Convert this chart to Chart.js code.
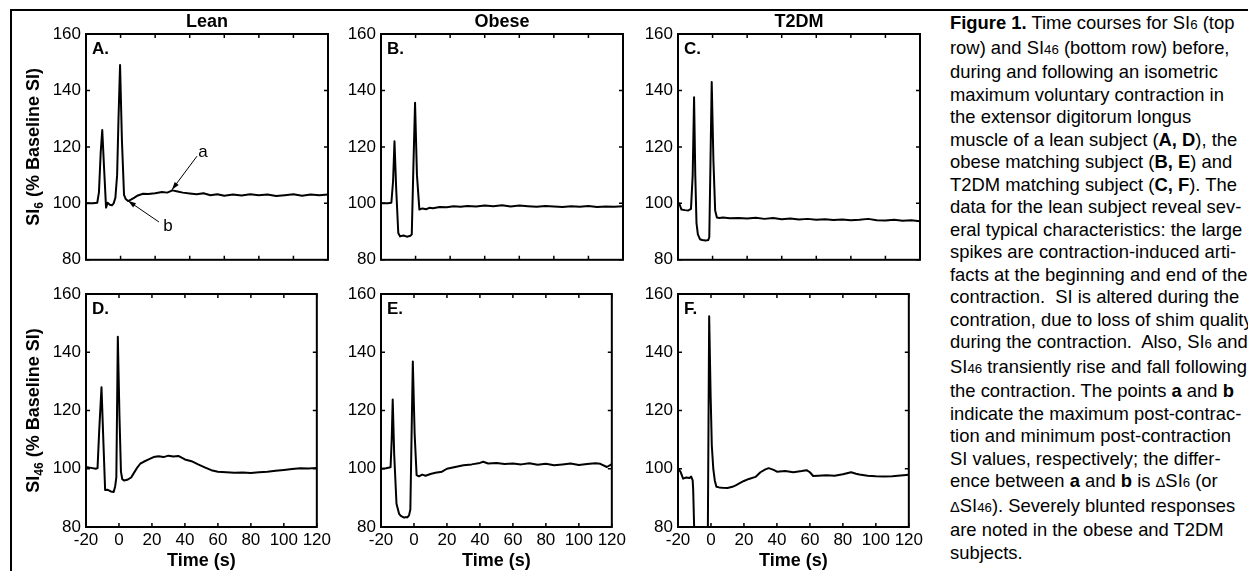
<!DOCTYPE html>
<html>
<head>
<meta charset="utf-8">
<script src="https://cdn.jsdelivr.net/npm/chart.js@4.4.1/dist/chart.umd.min.js"></script>
<style>
  body { margin: 0; width: 1248px; height: 571px; overflow: hidden; background: #fff; position: relative;
         font-family: "Liberation Sans", Arial, sans-serif; }
  .frame { position: absolute; left: 10px; top: 9px; width: 1400px; height: 700px;
           border-left: 2px solid #000; border-top: 2px solid #000; }
  .panel { position: absolute; }
  .caption { position: absolute; left: 950px; top: 12px; font-size: 18.4px; line-height: 22.5px;
             white-space: nowrap; color: #000; }
  .s { font-size: 72%; }
  .d { font-size: 80%; }
</style>
</head>
<body>
<div class="frame"></div>
<div id="panels"></div>
<div class="caption">
<b>Figure 1.</b> Time courses for SI<span class="s">6</span> (top<br>
row) and SI<span class="s">46</span> (bottom row) before,<br>
during and following an isometric<br>
maximum voluntary contraction in<br>
the extensor digitorum longus<br>
muscle of a lean subject (<b>A, D</b>), the<br>
obese matching subject (<b>B, E</b>) and<br>
T2DM matching subject (<b>C, F</b>). The<br>
data for the lean subject reveal sev-<br>
eral typical characteristics: the large<br>
spikes are contraction-induced arti-<br>
facts at the beginning and end of the<br>
contraction.&nbsp; SI is altered during the<br>
contration, due to loss of shim quality<br>
during the contraction.&nbsp; Also, SI<span class="s">6</span> and<br>
SI<span class="s">46</span> transiently rise and fall following<br>
the contraction. The points <b>a</b> and <b>b</b><br>
indicate the maximum post-contrac-<br>
tion and minimum post-contraction<br>
SI values, respectively; the differ-<br>
ence between <b>a</b> and <b>b</b> is <span class="d">&Delta;</span>SI<span class="s">6</span> (or<br>
<span class="d">&Delta;</span>SI<span class="s">46</span>). Severely blunted responses<br>
are noted in the obese and T2DM<br>
subjects.
</div>
<script>
// tick labels
var xTicks = [-20, 0, 20, 40, 60, 80, 100, 120];
var yTicks = [80, 100, 120, 140, 160];

var groupTitles = ["Lean", "Obese", "T2DM"];
var panelLetters = ["A.", "B.", "C.", "D.", "E.", "F."];
var rowSubscripts = ["6", "46"];

// SI6, lean (A)
var leanSI6Time = [-20, -16, -13.5, -12.5, -11.5, -10.6, -9.5, -8.4, -7.5, -6.2, -5, -4, -3, -2, -1.2, -0.3, 0.8, 2, 3, 4.3,
  6, 8, 10, 13, 16, 20, 24, 27, 30, 33, 36, 40, 44, 48, 52, 56, 60, 65, 70, 75, 80, 85, 90, 95, 100, 105, 110, 115, 120];
var leanSI6Values = [100, 100, 100.2, 104, 118, 126, 112, 98.5, 100.2, 99.5, 99.3, 100, 102, 110, 130, 149, 122, 103, 101.5, 100.8,
  101.3, 102, 102.8, 103.4, 103.3, 103.6, 104, 103.8, 104.6, 104.2, 103.8, 103.5, 103.2, 103.6, 102.9, 103.2, 102.7, 103.1, 102.8,
  103.2, 102.9, 103.1, 102.6, 102.9, 103.2, 102.7, 103.1, 102.9, 103.1];

// SI6, obese (B)
var obeseSI6Time = [-20, -16, -14, -13, -12.2, -11.2, -10, -9, -7, -5, -3, -2.2, -1.3, -0.3, 0.8, 2.2, 4, 6, 8, 10, 14, 18, 22,
  26, 30, 35, 40, 45, 50, 55, 60, 65, 70, 75, 80, 85, 90, 95, 100, 105, 110, 115, 120];
var obeseSI6Values = [100, 100, 100.2, 108, 122, 105, 89.5, 88.3, 88.6, 88.2, 88.5, 89, 112, 135.6, 110, 97.8, 98.2, 97.9, 98.4,
  98.3, 98.7, 98.6, 99, 98.8, 99.1, 98.9, 99.2, 99, 99.3, 98.9, 99.2, 99, 98.8, 99.1, 98.9, 98.7, 99, 98.8, 99.1, 98.7, 98.9, 98.8, 99];

// SI6, T2DM (C)
var t2dmSI6Time = [-20, -19, -18, -16, -14, -12.5, -11.5, -10.7, -10, -9.3, -8.5, -7.3, -6, -4, -2.5, -1.9, -1.2, -0.5, 0.5, 1.5,
  2.5, 4, 6, 10, 15, 20, 25, 30, 35, 40, 45, 50, 55, 60, 65, 70, 75, 80, 85, 90, 95, 100, 105, 110, 115, 120];
var t2dmSI6Values = [100.5, 99.5, 97.8, 97.6, 97.5, 98, 110, 137.6, 110, 93, 89, 87.3, 87, 86.8, 87, 88, 115, 143, 115, 97.5,
  95, 94.8, 95, 94.7, 94.8, 94.6, 94.9, 94.5, 94.8, 94.4, 94.6, 94.3, 94.5, 94.2, 94.4, 94.1, 94.3, 94, 94.2, 94.5, 94, 93.9,
  94.2, 93.8, 94, 93.7];

// SI46, lean (D)
var leanSI46Time = [-20, -17, -14, -13, -12, -10.6, -9.5, -8.4, -7, -5, -3.2, -2.3, -1.6, -0.7, 0.3, 1.2, 2, 3, 5, 7.4, 9, 11.2,
  13, 15, 18, 21, 24, 27, 30, 33, 36, 40, 44, 48, 52, 56, 60, 65, 70, 75, 80, 85, 90, 95, 100, 105, 110, 115, 120];
var leanSI46Values = [100.6, 100.3, 100, 100.2, 113, 128, 110, 92.7, 92.8, 92.2, 92, 94, 97, 145.3, 118, 99, 96.4, 96, 96.2, 97,
  98.5, 100.5, 101.8, 102.4, 103.2, 104, 104.3, 104, 104.5, 104.2, 104.4, 103.2, 102.6, 101.5, 100.5, 99.5, 99, 98.8, 98.6, 98.7,
  98.5, 98.8, 99, 99.3, 99.6, 99.9, 100.2, 100.1, 100.3];

// SI46, obese (E)
var obeseSI46Time = [-20, -17, -14.2, -13.5, -12.9, -12, -10.6, -9, -8, -6, -5, -4, -3, -2.2, -1.5, -0.7, 0.4, 1.6, 3, 5, 7, 10,
  13, 17, 20, 25, 30, 35, 40, 42, 45, 50, 55, 60, 65, 70, 75, 80, 85, 90, 95, 100, 105, 110, 113, 117, 120];
var obeseSI46Values = [100, 100.2, 100.5, 110, 123.8, 105, 88, 84.5, 83.8, 83.2, 83.4, 83.3, 84, 86, 110, 136.8, 112, 97.8, 97.4,
  98, 97.6, 98.2, 98.6, 99, 100, 100.6, 101.2, 101.5, 102, 102.4, 101.8, 102, 101.6, 101.8, 101.5, 101.9, 101.4, 101.7, 101.2,
  101.5, 101.8, 101.3, 101.6, 101.9, 101.7, 100.6, 101.6];

// SI46, T2DM (F) - dips below the axis during the contraction
var t2dmSI46Time = [-20, -18.5, -16.9, -15, -13, -12, -11.1, -10.8, -9.3, -6, -2.1, -1.1, -0.2, 0.5, 1.4, 2.3, 3.3, 5, 7, 10, 13,
  15, 18, 20, 23, 27, 30, 33, 35, 38, 40, 45, 50, 55, 58, 60, 62, 65, 70, 75, 80, 85, 88, 90, 95, 100, 105, 110, 115, 120];
var t2dmSI46Values = [100, 99, 96.6, 97, 96.8, 97.3, 96, 93, 60, 60, 60, 152.4, 125, 108, 100, 96, 93.8, 93.6, 93.5, 93.4, 93.8,
  94.3, 95.2, 95.8, 96.5, 97.2, 98.8, 99.8, 100.2, 99.6, 99, 99.2, 98.8, 99.2, 99.5, 98.8, 97.5, 97.6, 97.8, 97.6, 98.1, 98.8,
  98.3, 98, 97.6, 97.4, 97.3, 97.4, 97.7, 97.9];

// a / b markers on panel A: label, label position, arrow start, arrow tip (data units)
var markLabels = ["a", "b"];
var markTextAt = [[47.7, 118.1], [27.4, 92.0]];
var markArrowFrom = [[44.2, 116.7], [22.2, 93.4]];
var markArrowTo = [[29.7, 104.8], [4.3, 100.9]];

var series = [
  [leanSI6Time, leanSI6Values], [obeseSI6Time, obeseSI6Values], [t2dmSI6Time, t2dmSI6Values],
  [leanSI46Time, leanSI46Values], [obeseSI46Time, obeseSI46Values], [t2dmSI46Time, t2dmSI46Values]
];

Chart.defaults.font.family = '"Liberation Sans", Arial, sans-serif';
Chart.defaults.color = "#000";

var colLeft = [86, 381, 678];
var rowTop = [34, 294];
var plotW = 242, plotH = 233;
var padL = 80, padT = 34, padR = 6;
var boldFont = 'bold 18px "Liberation Sans", Arial, sans-serif';

var framePlugin = {
  id: "frame",
  afterDraw: function(chart) {
    var o = chart.options.plugins.frame;
    var ctx = chart.ctx, a = chart.chartArea;
    var xs = chart.scales.x, ys = chart.scales.y;
    ctx.save();
    ctx.strokeStyle = "#000";
    ctx.lineWidth = 2;
    ctx.strokeRect(a.left, a.top, a.right - a.left, a.bottom - a.top);
    // inward ticks on all four sides
    ctx.lineWidth = 1.5;
    ctx.beginPath();
    xs.ticks.forEach(function(t) {
      var px = xs.getPixelForValue(t.value);
      ctx.moveTo(px, a.bottom); ctx.lineTo(px, a.bottom - 4);
      ctx.moveTo(px, a.top); ctx.lineTo(px, a.top + 4);
    });
    ys.ticks.forEach(function(t) {
      var py = ys.getPixelForValue(t.value);
      ctx.moveTo(a.left, py); ctx.lineTo(a.left + 4, py);
      ctx.moveTo(a.right, py); ctx.lineTo(a.right - 4, py);
    });
    ctx.stroke();

    ctx.fillStyle = "#000";
    ctx.textBaseline = "middle";
    ctx.font = boldFont;
    if (o.title) {
      ctx.textAlign = "center";
      ctx.fillText(o.title, (a.left + a.right) / 2, a.top - 12);
    }
    ctx.textAlign = "left";
    ctx.font = 'bold 17px "Liberation Sans", Arial, sans-serif';
    ctx.fillText(o.letter, a.left + 6, a.top + 15);
    ctx.font = boldFont;
    if (o.xTitle) {
      ctx.textAlign = "center";
      ctx.fillText("Time (s)", (a.left + a.right) / 2, a.bottom + 34);
    }
    if (o.sub) {
      var small = 'bold 12px "Liberation Sans", Arial, sans-serif';
      ctx.font = boldFont;
      var w1 = ctx.measureText("SI").width;
      var w3 = ctx.measureText(" (% Baseline SI)").width;
      ctx.font = small;
      var w2 = ctx.measureText(o.sub).width;
      var total = w1 + w2 + w3;
      ctx.translate(a.left - 47, (a.top + a.bottom) / 2);
      ctx.rotate(-Math.PI / 2);
      ctx.textAlign = "left";
      ctx.textBaseline = "alphabetic";
      ctx.font = boldFont;
      ctx.fillText("SI", -total / 2, 0);
      ctx.font = small;
      ctx.fillText(o.sub, -total / 2 + w1, 4);
      ctx.font = boldFont;
      ctx.fillText(" (% Baseline SI)", -total / 2 + w1 + w2, 0);
      ctx.setTransform(1, 0, 0, 1, 0, 0);
    }
    if (o.marks) {
      ctx.font = '17px "Liberation Sans", Arial, sans-serif';
      ctx.textAlign = "center";
      ctx.textBaseline = "middle";
      ctx.lineWidth = 1;
      markLabels.forEach(function(lbl, i) {
        var tx = xs.getPixelForValue(markTextAt[i][0]), ty = ys.getPixelForValue(markTextAt[i][1]);
        ctx.fillText(lbl, tx, ty);
        var fx = xs.getPixelForValue(markArrowFrom[i][0]), fy = ys.getPixelForValue(markArrowFrom[i][1]);
        var ex = xs.getPixelForValue(markArrowTo[i][0]), ey = ys.getPixelForValue(markArrowTo[i][1]);
        var ang = Math.atan2(ey - fy, ex - fx);
        ctx.beginPath();
        ctx.moveTo(fx, fy); ctx.lineTo(ex, ey);
        ctx.stroke();
        ctx.beginPath();
        ctx.moveTo(ex, ey);
        ctx.lineTo(ex - 8 * Math.cos(ang) + 2.5 * Math.sin(ang), ey - 8 * Math.sin(ang) - 2.5 * Math.cos(ang));
        ctx.lineTo(ex - 8 * Math.cos(ang) - 2.5 * Math.sin(ang), ey - 8 * Math.sin(ang) + 2.5 * Math.cos(ang));
        ctx.closePath();
        ctx.fill();
      });
    }
    ctx.restore();
  }
};

var holder = document.getElementById("panels");
series.forEach(function(s, i) {
  var row = Math.floor(i / 3), col = i % 3;
  var padB = row === 1 ? 44 : 8;
  var div = document.createElement("div");
  div.className = "panel";
  div.style.left = (colLeft[col] - padL) + "px";
  div.style.top = (rowTop[row] - padT) + "px";
  var canvas = document.createElement("canvas");
  canvas.width = padL + plotW + padR;
  canvas.height = padT + plotH + padB;
  div.appendChild(canvas);
  holder.appendChild(div);

  new Chart(canvas, {
    type: "line",
    data: {
      datasets: [{
        data: s[0].map(function(t, k) { return { x: t, y: s[1][k] }; }),
        borderColor: "#000",
        borderWidth: 2,
        pointRadius: 0,
        tension: 0,
        borderJoinStyle: "round",
        fill: false
      }]
    },
    options: {
      responsive: false,
      animation: false,
      layout: { padding: { top: padT, right: padR, left: 0, bottom: 0 } },
      plugins: {
        legend: { display: false },
        tooltip: { enabled: false },
        frame: {
          title: row === 0 ? groupTitles[col] : null,
          letter: panelLetters[i],
          sub: col === 0 ? rowSubscripts[row] : null,
          xTitle: row === 1,
          marks: i === 0
        }
      },
      scales: {
        x: {
          type: "linear",
          min: -20, max: 120,
          afterBuildTicks: function(sc) { sc.ticks = xTicks.map(function(v) { return { value: v }; }); },
          afterFit: function(sc) { sc.height = padB; },
          grid: { display: false, drawTicks: false },
          border: { display: false },
          ticks: { display: row === 1, font: { size: 17 }, padding: 3, maxRotation: 0, autoSkip: false }
        },
        y: {
          min: 80, max: 160,
          afterBuildTicks: function(sc) { sc.ticks = yTicks.map(function(v) { return { value: v }; }); },
          afterFit: function(sc) { sc.width = padL; },
          grid: { display: false, drawTicks: false },
          border: { display: false },
          ticks: { font: { size: 17 }, padding: 5 }
        }
      }
    },
    plugins: [framePlugin]
  });
});
</script>
</body>
</html>
